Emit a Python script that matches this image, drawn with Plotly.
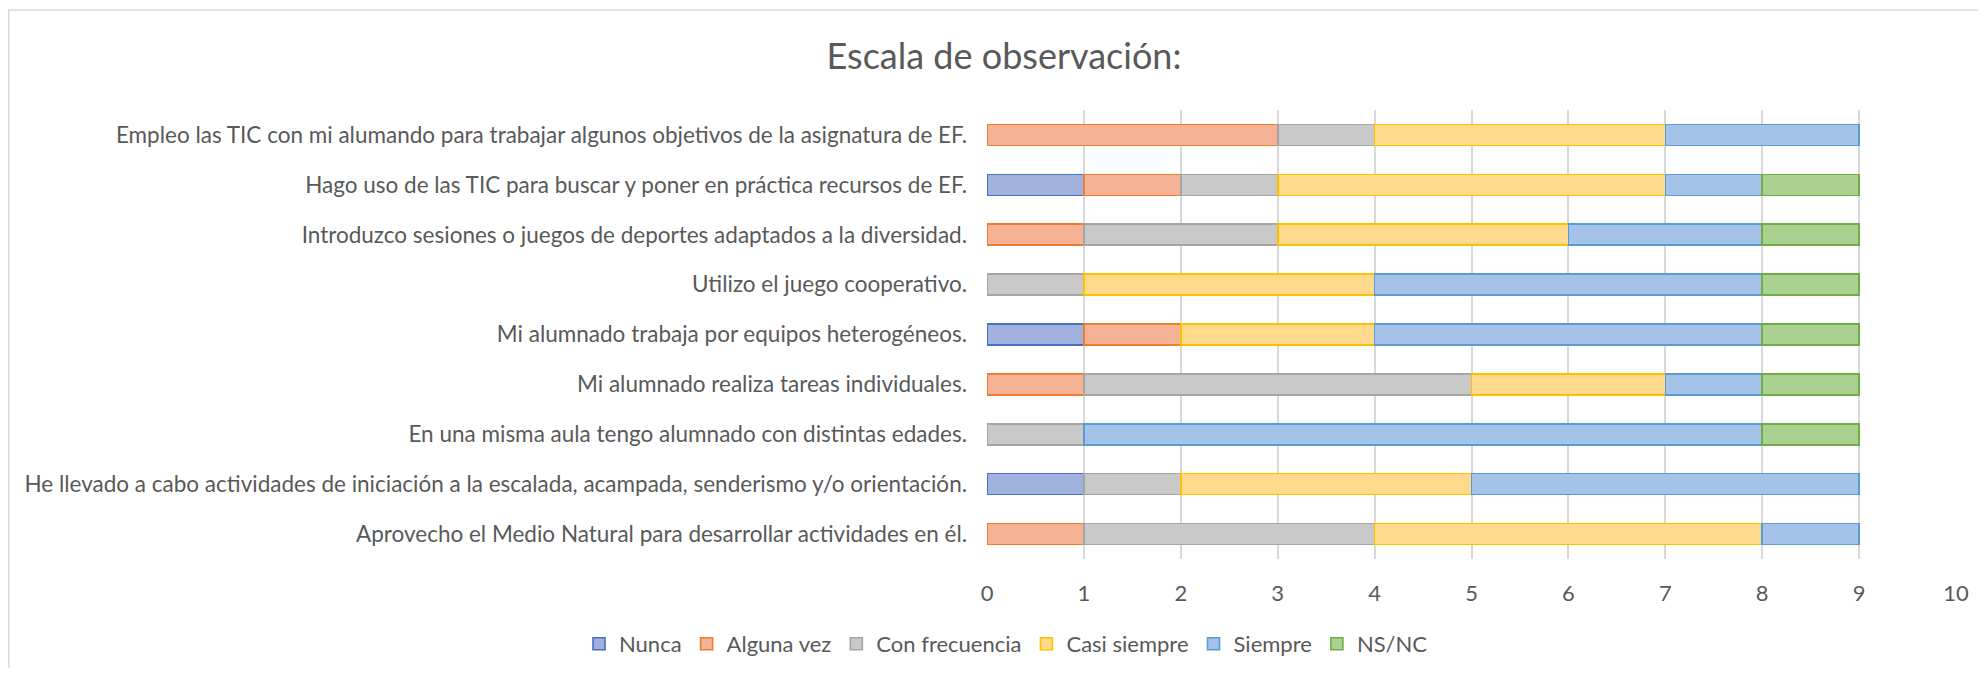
import plotly.graph_objects as go

categories = [
    "Empleo las TIC con mi alumando para trabajar algunos objetivos de la asignatura de EF.",
    "Hago uso de las TIC para buscar y poner en práctica recursos de EF.",
    "Introduzco sesiones o juegos de deportes adaptados a la diversidad.",
    "Utilizo el juego cooperativo.",
    "Mi alumnado trabaja por equipos heterogéneos.",
    "Mi alumnado realiza tareas individuales.",
    "En una misma aula tengo alumnado con distintas edades.",
    "He llevado a cabo actividades de iniciación a la escalada, acampada, senderismo y/o orientación.",
    "Aprovecho el Medio Natural para desarrollar actividades en él.",
]

series_names = ["Nunca", "Alguna vez", "Con frecuencia", "Casi siempre", "Siempre", "NS/NC"]

nunca          = [0, 1, 0, 0, 1, 0, 0, 1, 0]
alguna_vez     = [3, 1, 1, 0, 1, 1, 0, 0, 1]
con_frecuencia = [1, 1, 2, 1, 0, 4, 1, 1, 3]
casi_siempre   = [3, 4, 3, 3, 2, 2, 0, 3, 4]
siempre        = [2, 1, 2, 4, 4, 1, 7, 4, 1]
ns_nc          = [0, 1, 1, 1, 1, 1, 1, 0, 0]

x_ticks = [0, 1, 2, 3, 4, 5, 6, 7, 8, 9, 10]

series_values = [nunca, alguna_vez, con_frecuencia, casi_siempre, siempre, ns_nc]
fills = ["#a0b1de", "#f6b294", "#c9c9c9", "#ffd98c", "#a5c3e8", "#aad190"]
lines = ["#4472c4", "#ed7d31", "#a5a5a5", "#ffc000", "#5b9bd5", "#70ad47"]

FONT = "Lato"
TXT = "#595959"

# figure geometry (page body has an 8px margin)
W, H = 1970, 660
L, T = 979, 102
PW, PH = 969, 449
R = W - L - PW
B = H - T - PH

fig = go.Figure()
for name, vals, fc, lc in zip(series_names, series_values, fills, lines):
    fig.add_trace(go.Bar(
        name=name,
        y=categories,
        x=[v if v != 0 else None for v in vals],
        orientation="h",
        width=0.42,
        marker=dict(color=fc, line=dict(color=lc, width=1.6)),
        hoverinfo="x+y+name",
    ))

# chart border (left & top visible)
fig.add_shape(type="rect", xref="paper", yref="paper",
              x0=(0.75 - L) / PW, x1=(W + 20 - L) / PW,
              y0=(T + PH - (H + 20)) / PH, y1=(T + PH - 2) / PH,
              line=dict(color="#d9d9d9", width=1.5), fillcolor="rgba(0,0,0,0)",
              layer="below")

fig.update_layout(
    width=W, height=H,
    barmode="stack",
    margin=dict(l=L, r=R, t=T, b=B, pad=0, autoexpand=False),
    paper_bgcolor="white", plot_bgcolor="white",
    font=dict(family=FONT, color=TXT, size=22),
    title=dict(text="Escala de observación:", x=996 / W, xref="container",
               xanchor="center", y=1 - 48 / H, yref="container", yanchor="middle",
               font=dict(family=FONT, size=36, color=TXT)),
    xaxis=dict(range=[0, 10], tickvals=x_ticks, showgrid=True, gridcolor="#d9d9d9",
               gridwidth=1.5, zeroline=False, showline=False, ticks="",
               tickfont=dict(size=22, color=TXT), ticklabelstandoff=19, fixedrange=True),
    yaxis=dict(categoryorder="array", categoryarray=categories[::-1], showgrid=False,
               zeroline=False, showline=False, ticks="", automargin=False,
               tickfont=dict(size=22.5, color=TXT), ticklabelstandoff=19),
    legend=dict(orientation="h", x=(998 - L) / PW, xanchor="center",
                y=(PH - (636 - T)) / PH, yanchor="middle",
                font=dict(size=22, color=TXT), traceorder="normal",
                itemwidth=30),
    showlegend=True,
)

fig.write_html("out.html")
